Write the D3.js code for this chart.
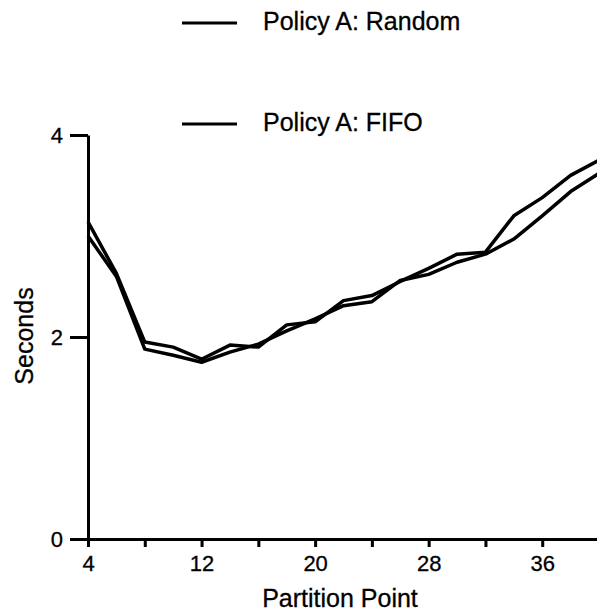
<!DOCTYPE html>
<html>
<head>
<meta charset="utf-8">
<script src="https://cdn.jsdelivr.net/npm/d3@7"></script>
<style>
  body { margin: 0; background: white; }
  text { font-family: "Liberation Sans", Arial, sans-serif; fill: black; }
</style>
</head>
<body>
<div id="chart"></div>
<script>
  // partition points and the two measured series
  var partition = [4, 6, 8, 10, 12, 14, 16, 18, 20, 22, 24, 26, 28, 30, 32, 34, 36, 38, 40];
  var randomSecs = [3.14, 2.63, 1.95, 1.90, 1.78, 1.92, 1.90, 2.12, 2.15, 2.36, 2.41, 2.55, 2.68, 2.82, 2.84, 3.20, 3.38, 3.60, 3.75];
  var fifoSecs   = [3.00, 2.60, 1.88, 1.82, 1.75, 1.85, 1.93, 2.06, 2.18, 2.31, 2.35, 2.56, 2.62, 2.74, 2.82, 2.97, 3.20, 3.44, 3.62];
  var seriesNames = ["Policy A: Random", "Policy A: FIFO"];
  var xTicks = [4, 8, 12, 16, 20, 24, 28, 32, 36, 40];
  var xLabels = [4, 12, 20, 28, 36];
  var yTicks = [0, 2, 4];

  var width = 597, height = 613;
  var svg = d3.select("#chart").append("svg")
    .attr("width", width)
    .attr("height", height);

  var x = d3.scaleLinear().domain([4, 40]).range([88, 599]);
  var y = d3.scaleLinear().domain([0, 4]).range([539, 135]);

  // axes
  var xAxis = svg.append("g")
    .attr("transform", "translate(0," + y(0) + ")")
    .call(d3.axisBottom(x).tickValues(xTicks).tickSizeInner(8).tickSizeOuter(0)
      .tickFormat(function(d) { return xLabels.indexOf(d) >= 0 ? d : ""; }));
  var yAxis = svg.append("g")
    .attr("transform", "translate(" + x(4) + ",0)")
    .call(d3.axisLeft(y).tickValues(yTicks).tickSizeInner(18).tickSizeOuter(0)
      .tickFormat(d3.format("d")));

  [xAxis, yAxis].forEach(function(g) {
    g.select(".domain").attr("stroke", "black").attr("stroke-width", 3);
    g.selectAll(".tick line").attr("stroke", "black").attr("stroke-width", 3);
    g.selectAll(".tick text").attr("font-size", "22px").attr("fill", "black")
      .attr("stroke", "black").attr("stroke-width", 0.3)
      .attr("font-family", "Liberation Sans, Arial, sans-serif");
  });
  xAxis.selectAll(".tick text").attr("y", 12).attr("dy", "0.9em");
  yAxis.selectAll(".tick text").attr("x", -25);

  // lines
  var line = d3.line()
    .x(function(d) { return x(d[0]); })
    .y(function(d) { return y(d[1]); });

  [randomSecs, fifoSecs].forEach(function(vals) {
    var pts = partition.map(function(p, i) { return [p, vals[i]]; });
    svg.append("path")
      .datum(pts)
      .attr("d", line)
      .attr("fill", "none")
      .attr("stroke", "black")
      .attr("stroke-width", 3.5)
      .attr("stroke-linejoin", "round");
  });

  // legend
  var legend = svg.append("g");
  seriesNames.forEach(function(name, i) {
    var ly = 23 + i * 101;
    legend.append("line")
      .attr("x1", 182).attr("x2", 237)
      .attr("y1", ly).attr("y2", ly)
      .attr("stroke", "black").attr("stroke-width", 3);
    legend.append("text")
      .attr("x", 263).attr("y", ly + 7)
      .attr("font-size", "25px")
      .attr("stroke", "black").attr("stroke-width", 0.3)
      .text(name);
  });

  // axis titles
  svg.append("text")
    .attr("x", 340).attr("y", 607)
    .attr("text-anchor", "middle")
    .attr("font-size", "25px")
    .attr("stroke", "black").attr("stroke-width", 0.3)
    .text("Partition Point");
  svg.append("text")
    .attr("transform", "translate(33,336) rotate(-90)")
    .attr("text-anchor", "middle")
    .attr("font-size", "25px")
    .attr("stroke", "black").attr("stroke-width", 0.3)
    .text("Seconds");
</script>
</body>
</html>
